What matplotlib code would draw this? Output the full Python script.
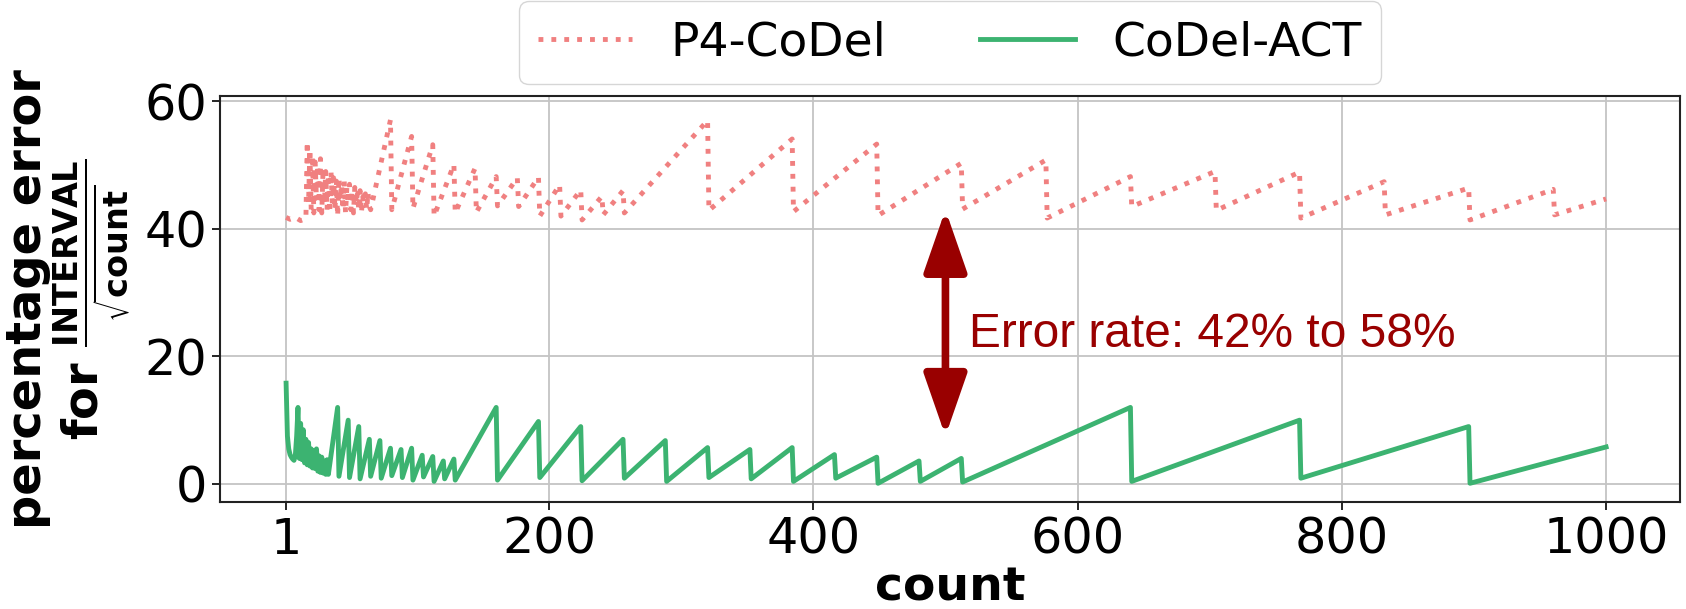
import numpy as np
import matplotlib
matplotlib.use('Agg')
from matplotlib import pyplot as plt

# values (count, percentage error)
p4_count = [1, 4, 8, 12, 16,
            17, 18, 19, 20, 21, 22, 23, 24, 25, 26, 27, 28, 29, 30, 31, 32,
            33, 34, 35, 36, 37, 38, 39, 40, 41, 42, 43, 44, 45, 46, 47, 48,
            49, 50, 51, 52, 53, 54, 55, 56, 57, 58, 59, 60, 61, 62, 63, 64, 65,
            80, 81, 96, 97, 112, 113, 128, 129, 144, 145, 160, 161, 176, 177,
            192, 193, 208, 209, 224, 225, 240, 241, 256, 257,
            320, 321, 384, 385, 448, 449, 512, 513, 576, 577, 640, 641,
            704, 705, 768, 769, 832, 833, 896, 897, 960, 961, 1000]
p4_err = [41.8, 41.5, 41.8, 41.3, 41.6,
          53.7, 44.0, 52.5, 43.0, 51.5, 42.5, 50.5, 44.5, 50.0, 43.0, 51.0, 42.5, 49.5, 44.0, 49.0, 43.0,
          48.5, 42.5, 49.0, 44.0, 48.0, 43.0, 47.5, 42.0, 48.0, 44.5, 47.0, 43.0, 47.5, 42.5, 46.5, 44.0,
          47.0, 43.0, 46.0, 42.5, 46.5, 44.0, 45.5, 43.0, 46.0, 42.5, 45.0, 44.0, 45.5, 43.0, 45.7, 43.5, 43.0,
          57.1, 43.0, 54.5, 43.2, 53.2, 42.0, 50.1, 42.5, 49.5, 42.6, 48.2, 43.6, 48.0, 43.5,
          48.1, 42.0, 46.9, 42.0, 46.1, 41.4, 45.1, 42.2, 46.0, 42.5,
          57.0, 42.9, 54.1, 42.7, 53.3, 42.1, 50.3, 43.1, 50.8, 41.7, 48.2, 43.5,
          49.0, 42.9, 48.9, 41.7, 47.4, 42.2, 46.4, 41.4, 46.2, 42.2, 44.7]

act_count = [1, 2, 3, 4, 5, 6, 7, 8, 9, 10,
             11, 12, 13, 14, 15, 16, 17, 18, 19, 20, 21, 22, 23, 24, 25, 26, 27, 28, 29, 30, 31, 32, 33,
             40, 41, 48, 49, 56, 57, 64, 65, 72, 73, 80, 81, 88, 89, 96, 97, 104, 105, 112, 113, 120, 121, 128, 129,
             160, 161, 192, 193, 224, 225, 256, 257, 288, 289, 320, 321, 352, 353, 384, 385,
             416, 417, 448, 449, 480, 481, 512, 513,
             640, 641, 768, 769, 896, 897, 1000]
act_err = [15.8, 7.5, 5.5, 4.6, 4.2, 3.9, 3.7, 4.5, 7.5, 12.0,
           4.0, 9.5, 3.8, 8.5, 3.3, 7.0, 3.0, 6.5, 2.8, 5.5, 2.5, 5.2, 2.4, 5.5, 2.0, 4.4, 1.8, 4.2, 1.7, 3.6, 1.5, 3.8, 1.5,
           12.0, 1.2, 10.0, 1.0, 9.0, 0.8, 7.0, 1.2, 6.8, 0.9, 5.6, 1.3, 5.4, 1.0, 5.6, 0.6, 4.5, 1.1, 4.3, 0.4, 3.6, 0.8, 3.9, 0.6,
           12.0, 0.6, 9.8, 1.0, 9.0, 0.5, 7.0, 0.9, 6.8, 0.4, 5.7, 1.0, 5.4, 0.8, 5.7, 0.4,
           4.6, 0.9, 4.2, 0.1, 3.6, 0.4, 4.0, 0.3,
           12.0, 0.4, 10.0, 0.9, 9.0, 0.1, 5.8]

x_ticks = [1, 200, 400, 600, 800, 1000]
y_ticks = [0, 20, 40, 60]

plt.rcParams['mathtext.fontset'] = 'dejavusans'

fig = plt.figure(figsize=(16.86, 6.09), dpi=100)
ax = fig.add_axes([0.1305, 0.175, 0.866, 0.668])

ax.plot(p4_count, p4_err, linestyle=':', color='#f08080', lw=3.5, label='P4-CoDel')
ax.plot(act_count, act_err, linestyle='-', color='#3cb371', lw=3.5, label='CoDel-ACT')

ax.set_xlim(-49, 1056)
ax.set_ylim(-2.9, 60.9)
ax.set_xticks(x_ticks)
ax.set_yticks(y_ticks)
ax.tick_params(labelsize=35.5, length=6, width=1.2)
ax.grid(True, color='#c4c4c4', lw=1.3)
ax.set_axisbelow(True)
for s in ax.spines.values():
    s.set_color('#222222')
    s.set_linewidth(1.5)

ax.set_xlabel('count', fontsize=34, fontweight='bold', labelpad=1)
ax.set_ylabel('percentage error\n' + r'for $\frac{\mathbf{INTERVAL}}{\sqrt{\mathbf{count}}}$',
              fontsize=34.5, fontweight='bold', linespacing=1.0, labelpad=8)

# double arrow + note
ax.annotate('', xy=(500, 43.0), xytext=(500, 7.5),
            arrowprops=dict(arrowstyle='<|-|>,head_length=0.95,head_width=0.33',
                            mutation_scale=40, lw=5.5, color='#990000',
                            shrinkA=0, shrinkB=0))
ax.text(518, 21.5, 'Error rate: 42% to 58%', color='#990000', fontsize=34.5,
        family='Liberation Sans', va='baseline')

ax.legend(loc='lower center', bbox_to_anchor=(0.5, 1.005), ncol=2, fontsize=34,
          borderaxespad=0.2, handlelength=2.0)

plt.savefig('out.png', dpi=100)
